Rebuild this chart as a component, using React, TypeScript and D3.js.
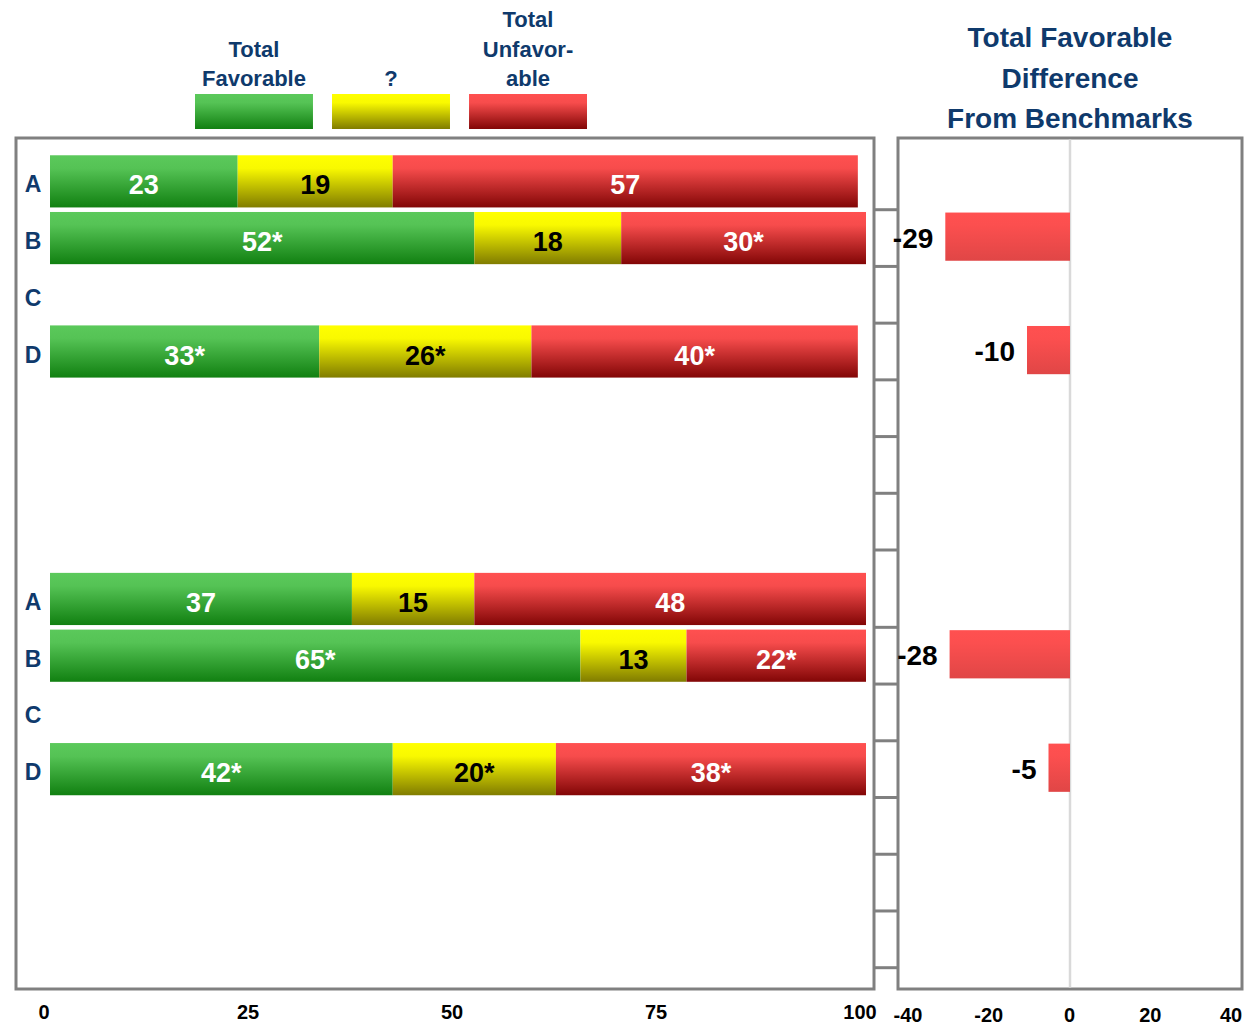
import React from "react";
import * as d3 from "d3";

// Row labels for each block of bars (7 rows per block, the last three empty)
const rowLabels = ["A", "B", "C", "D"];
const rowsPerBlock = 7;

// Upper block: percent favorable / neutral / unfavorable
const favTop = [23, 52, null, 33];
const neuTop = [19, 18, null, 26];
const unfTop = [57, 30, null, 40];
const favTopSig = [false, true, false, true];
const neuTopSig = [false, false, false, true];
const unfTopSig = [false, true, false, true];

// Lower block
const favBottom = [37, 65, null, 42];
const neuBottom = [15, 13, null, 20];
const unfBottom = [48, 22, null, 38];
const favBottomSig = [false, true, false, true];
const neuBottomSig = [false, false, false, true];
const unfBottomSig = [false, true, false, true];

// Favorable difference from benchmarks
const diffTop = [null, -29, null, -10];
const diffBottom = [null, -28, null, -5];

const percentTicks = [0, 25, 50, 75, 100];
const diffTicks = [-40, -20, 0, 20, 40];

const legendLabels = [["Total", "Favorable"], ["?"], ["Total", "Unfavor-", "able"]];
const titleLines = ["Total Favorable", "Difference", "From Benchmarks"];

const FONT = "'Liberation Sans', Arial, sans-serif";
const NAVY = "#0f3a6c";
const FRAME = "#808080";

const segKeys = ["fav", "neu", "unf"];
const segFill = ["url(#gFav)", "url(#gNeu)", "url(#gUnf)"];
const segText = ["#ffffff", "#000000", "#ffffff"];

type Block = {
  fav: (number | null)[];
  neu: (number | null)[];
  unf: (number | null)[];
  sig: boolean[][];
  diff: (number | null)[];
  range: [number, number];
};

const blocks: Block[] = [
  { fav: favTop, neu: neuTop, unf: unfTop, sig: [favTopSig, neuTopSig, unfTopSig], diff: diffTop, range: [153, 550] },
  { fav: favBottom, neu: neuBottom, unf: unfBottom, sig: [favBottomSig, neuBottomSig, unfBottomSig], diff: diffBottom, range: [570.6, 967.7] },
];

const x = d3.scaleLinear().domain([0, 100]).range([50, 866]);
const xd = d3.scaleLinear().domain([-40, 40]).range([898, 1242]);
const xdLabel = d3.scaleLinear().domain([-40, 40]).range([908, 1231]);

const legendX = d3.scaleBand<number>().domain([0, 1, 2]).range([195, 587]).paddingInner(0.139).paddingOuter(0);

function BlockRows({ b, bi }: { b: Block; bi: number }) {
  const y = d3.scaleBand<number>().domain(d3.range(rowsPerBlock)).range(b.range);
  const bw = y.bandwidth();
  const rows = rowLabels.map((lab, i) => ({ lab, i, fav: b.fav[i], neu: b.neu[i], unf: b.unf[i] }));
  const stacked = d3
    .stack<any>()
    .keys(segKeys)
    .value((d: any, k: string) => (d[k] == null ? 0 : d[k]))(rows);
  return (
    <g>
      {/* category ticks joining the two panels */}
      {d3.range(1, rowsPerBlock + 1).map((k) => {
        const ty = (y(k - 1) as number) + bw;
        return <line key={"t" + k} x1={874} x2={898} y1={ty} y2={ty} stroke={FRAME} strokeWidth={3} />;
      })}
      {rows.map((r) => {
        const cy = (y(r.i) as number) + bw / 2;
        return (
          <text key={"l" + r.i} x={33} y={cy + 11} textAnchor="middle" fontFamily={FONT} fontWeight="bold" fontSize={23} fill={NAVY}>
            {r.lab}
          </text>
        );
      })}
      {stacked.map((series, si) =>
        series.map((seg, ri) => {
          const v = (rows[ri] as any)[segKeys[si]];
          if (v == null) return null;
          const top = (y(ri) as number) + bw * 0.04;
          const h = bw * 0.92;
          const x0 = x(seg[0]);
          const x1 = x(seg[1]);
          const label = `${v}${b.sig[si][ri] ? "*" : ""}`;
          return (
            <g key={`s${bi}-${si}-${ri}`}>
              <rect x={x0} y={top} width={x1 - x0} height={h} fill={segFill[si]} />
              <text x={(x0 + x1) / 2} y={top + h / 2 + 13} textAnchor="middle" fontFamily={FONT} fontWeight="bold" fontSize={27} fill={segText[si]}>
                {label}
              </text>
            </g>
          );
        })
      )}
      {b.diff.map((d, i) => {
        if (d == null) return null;
        const top = (y(i) as number) + bw * 0.05;
        const h = bw * 0.85;
        const x0 = xd(Math.min(0, d));
        const x1 = xd(Math.max(0, d));
        return (
          <g key={"d" + i}>
            <rect x={x0} y={top} width={x1 - x0} height={h} fill="url(#gDiff)" />
            <text x={x0 - 12} y={top + h / 2 + 11} textAnchor="end" fontFamily={FONT} fontWeight="bold" fontSize={28} fill="#000">
              {d}
            </text>
          </g>
        );
      })}
    </g>
  );
}

export default function App() {
  const grad = (id: string, c0: string, c1: string, c2: string) => (
    <linearGradient id={id} x1="0" y1="0" x2="0" y2="1">
      <stop offset="0" stopColor={c0} />
      <stop offset="0.25" stopColor={c1} />
      <stop offset="1" stopColor={c2} />
    </linearGradient>
  );
  return (
    <svg width={1244} height={1026} style={{ position: "absolute", left: 0, top: 0, background: "#fff" }}>
      <defs>
        {grad("gFav", "#5bc95b", "#55c355", "#118011")}
        {grad("gNeu", "#ffff00", "#f9f900", "#807c00")}
        {grad("gUnf", "#ff5050", "#f74c4c", "#820606")}
        {grad("gDiff", "#ff5050", "#fc4f4f", "#e04646")}
      </defs>

      {/* legend */}
      {legendLabels.map((lines, i) => {
        const lx = legendX(i) as number;
        const lw = legendX.bandwidth();
        return (
          <g key={"lg" + i}>
            <rect x={lx} y={94} width={lw} height={35} fill={segFill[i]} />
            {lines.map((t, j) => (
              <text
                key={j}
                x={lx + lw / 2}
                y={86 - (lines.length - 1 - j) * 29.5}
                textAnchor="middle"
                fontFamily={FONT}
                fontWeight="bold"
                fontSize={22}
                fill={NAVY}
              >
                {t}
              </text>
            ))}
          </g>
        );
      })}

      {/* right panel title */}
      {titleLines.map((t, j) => (
        <text key={"tt" + j} x={1070} y={47 + j * 40.5} textAnchor="middle" fontFamily={FONT} fontWeight="bold" fontSize={28} fill={NAVY}>
          {t}
        </text>
      ))}

      {/* panel frames */}
      <rect x={16} y={138} width={858} height={851} fill="none" stroke={FRAME} strokeWidth={3} />
      <rect x={898} y={138} width={344} height={851} fill="none" stroke={FRAME} strokeWidth={3} />
      <line x1={xd(0)} x2={xd(0)} y1={139.5} y2={987.5} stroke="#d9d9d9" strokeWidth={2.5} />

      {blocks.map((b, bi) => (
        <BlockRows key={bi} b={b} bi={bi} />
      ))}

      {/* value axes */}
      {percentTicks.map((t) => (
        <text key={"px" + t} x={x(t) - 6} y={1019} textAnchor="middle" fontFamily={FONT} fontWeight="bold" fontSize={20} fill="#000">
          {t}
        </text>
      ))}
      {diffTicks.map((t) => (
        <text key={"dx" + t} x={xdLabel(t)} y={1022} textAnchor="middle" fontFamily={FONT} fontWeight="bold" fontSize={20} fill="#000">
          {t}
        </text>
      ))}
    </svg>
  );
}
